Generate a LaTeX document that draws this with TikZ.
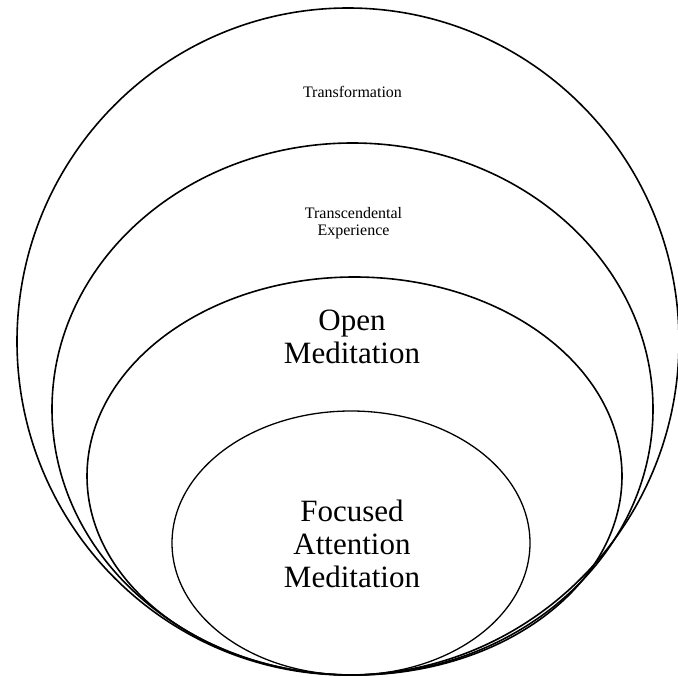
\documentclass[tikz,border=0pt]{standalone}
\usepackage{fontspec}
\setmainfont{Liberation Serif}
\begin{document}
\begin{tikzpicture}[x=1pt,y=-1pt,
  ring/.style={draw=black,line width=1.6pt},
  small/.style={font=\fontsize{16}{16.5}\selectfont,align=center,inner sep=0pt,anchor=base},
  big/.style={font=\fontsize{31}{33}\selectfont,align=center,inner sep=0pt,anchor=base}]
\useasboundingbox (0,0) rectangle (678,677);
\draw[ring] (348,341.5) ellipse [x radius=331,y radius=333.5];
\draw[ring] (352.5,409) ellipse [x radius=300.5,y radius=266];
\draw[ring] (354.5,476) ellipse [x radius=267.5,y radius=199];
\draw[ring,line width=1.3pt] (351,543) ellipse [x radius=179,y radius=132];
\node[small] (t1) at (352.5,98) {Transformation};
\node[small] (t2) at (353.5,235) {Transcendental\\Experience};
\node[big] (t3) at (352,363) {Open\\Meditation};
\node[big] (t4) at (352,587) {Focused\\Attention\\Meditation};
\end{tikzpicture}
\end{document}
